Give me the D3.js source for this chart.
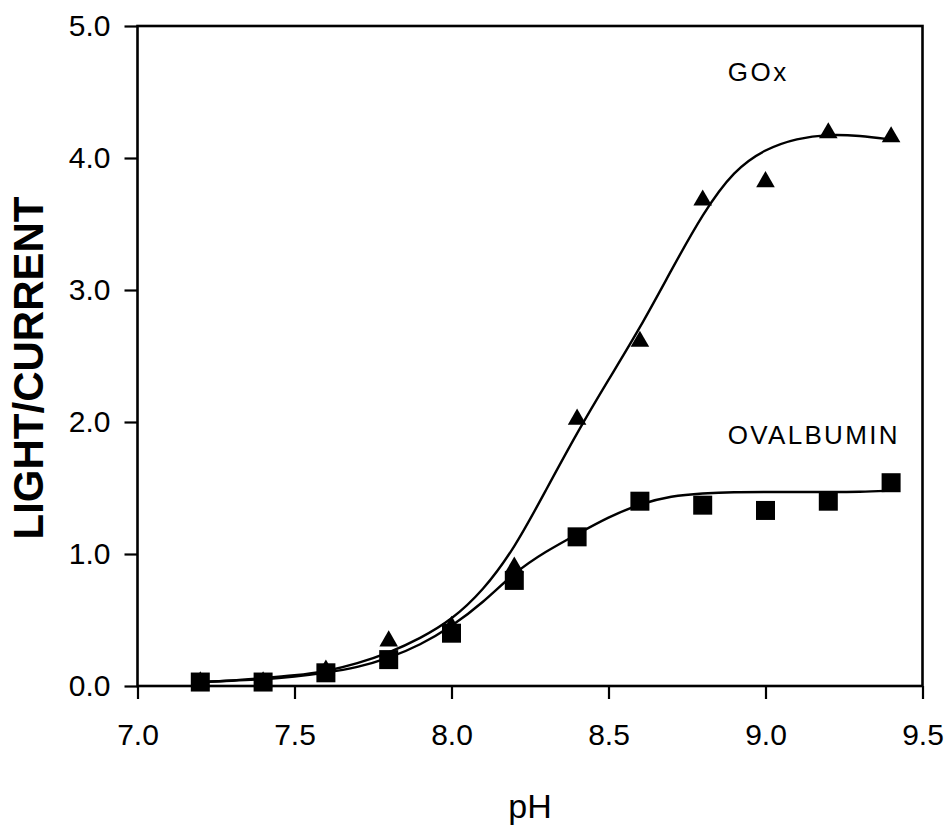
<!DOCTYPE html>
<html>
<head>
<meta charset="utf-8">
<script src="https://cdn.jsdelivr.net/npm/d3@7"></script>
<style>
  body { margin: 0; background: #fff; }
  svg text { font-family: "Liberation Sans", Arial, Helvetica, sans-serif; fill: #000; }
</style>
</head>
<body>
<div id="chart"></div>
<script>
// measured points
var phValues = [7.2, 7.4, 7.6, 7.8, 8.0, 8.2, 8.4, 8.6, 8.8, 9.0, 9.2, 9.4];
var goxValues = [0.03, 0.03, 0.12, 0.34, 0.45, 0.90, 2.02, 2.61, 3.68, 3.82, 4.19, 4.16];
var ovalValues = [0.03, 0.03, 0.10, 0.20, 0.40, 0.80, 1.13, 1.40, 1.37, 1.33, 1.40, 1.54];

// fitted curves
var fitPH = [7.2, 7.3, 7.4, 7.5, 7.6, 7.7, 7.8, 7.9, 8.0, 8.1, 8.2, 8.3, 8.4, 8.5, 8.6, 8.7, 8.8, 8.9, 9.0, 9.1, 9.2, 9.3, 9.4];
var goxFit = [0.03, 0.04, 0.06, 0.08, 0.11, 0.17, 0.25, 0.36, 0.50, 0.72, 1.04, 1.48, 1.92, 2.32, 2.71, 3.15, 3.58, 3.91, 4.07, 4.15, 4.18, 4.17, 4.14];
var ovalFit = [0.03, 0.04, 0.05, 0.07, 0.10, 0.14, 0.21, 0.31, 0.45, 0.63, 0.86, 1.02, 1.15, 1.28, 1.38, 1.44, 1.46, 1.47, 1.47, 1.47, 1.47, 1.47, 1.48];

var xTicks = [7.0, 7.5, 8.0, 8.5, 9.0, 9.5];
var yTicks = [0, 1, 2, 3, 4, 5];

var svgWidth = 949;
var svgHeight = 828;
var margin = { top: 26, right: 26.5, bottom: 142, left: 137.5 };
var width = svgWidth - margin.left - margin.right;
var height = svgHeight - margin.top - margin.bottom;

var svg = d3.select("#chart")
  .append("svg")
  .attr("width", svgWidth)
  .attr("height", svgHeight);

var chartGroup = svg.append("g")
  .attr("transform", `translate(${margin.left}, ${margin.top})`);

var xScale = d3.scaleLinear().domain([7.0, 9.5]).range([0, width]);
var yScale = d3.scaleLinear().domain([0, 5]).range([height, 0]);

// axes
var xAxis = d3.axisBottom(xScale).tickValues(xTicks).tickSize(13).tickPadding(10)
  .tickFormat(d3.format(".1f"));
var yAxis = d3.axisLeft(yScale).tickValues(yTicks).tickSize(13).tickPadding(14)
  .tickFormat(d3.format(".1f"));

var gx = chartGroup.append("g")
  .attr("transform", `translate(0, ${height})`)
  .call(xAxis);
var gy = chartGroup.append("g").call(yAxis);

[gx, gy].forEach(function(g) {
  g.select(".domain").remove();
  g.selectAll("line").attr("stroke", "#000").attr("stroke-width", 2.2);
  g.selectAll("text").attr("font-size", "30px").attr("fill", "#000")
    .style("font-family", "'Liberation Sans', Arial, sans-serif");
});
gx.selectAll("text").attr("dy", "1.2em");

// frame
chartGroup.append("rect")
  .attr("x", 0).attr("y", 0)
  .attr("width", width).attr("height", height)
  .attr("fill", "none")
  .attr("stroke", "#000")
  .attr("stroke-width", 2.6);

// fitted lines
var fitLine = function(values) {
  return d3.line()
    .x((d, i) => xScale(fitPH[i]))
    .y(d => yScale(d))
    .curve(d3.curveBasis)(values);
};

chartGroup.append("path")
  .attr("d", fitLine(goxFit))
  .attr("fill", "none").attr("stroke", "#000").attr("stroke-width", 2.4);

chartGroup.append("path")
  .attr("d", fitLine(ovalFit))
  .attr("fill", "none").attr("stroke", "#000").attr("stroke-width", 2.4);

// markers
var triangle = d3.symbol().type(d3.symbolTriangle).size(150);
chartGroup.selectAll(".tri")
  .data(goxValues)
  .enter()
  .append("path")
  .attr("class", "tri")
  .attr("d", triangle)
  .attr("transform", (d, i) => `translate(${xScale(phValues[i])}, ${yScale(d)})`)
  .attr("fill", "#000");

var sq = 19;
chartGroup.selectAll(".sq")
  .data(ovalValues)
  .enter()
  .append("rect")
  .attr("class", "sq")
  .attr("x", (d, i) => xScale(phValues[i]) - sq / 2)
  .attr("y", d => yScale(d) - sq / 2)
  .attr("width", sq)
  .attr("height", sq)
  .attr("fill", "#000");

// series labels
chartGroup.append("text")
  .attr("x", xScale(8.88))
  .attr("y", yScale(4.58))
  .attr("font-size", "26px")
  .attr("letter-spacing", "2.5px")
  .text("GOx");

chartGroup.append("text")
  .attr("x", xScale(8.88))
  .attr("y", yScale(1.83))
  .attr("font-size", "26px")
  .attr("letter-spacing", "2.3px")
  .text("OVALBUMIN");

// axis titles
svg.append("text")
  .attr("transform", `translate(43, ${margin.top + height / 2 + 12}) rotate(-90)`)
  .attr("text-anchor", "middle")
  .attr("font-size", "42px")
  .attr("font-weight", "bold")
  .text("LIGHT/CURRENT");

svg.append("text")
  .attr("x", margin.left + width / 2)
  .attr("y", 818)
  .attr("text-anchor", "middle")
  .attr("font-size", "34px")
  .text("pH");
</script>
</body>
</html>
